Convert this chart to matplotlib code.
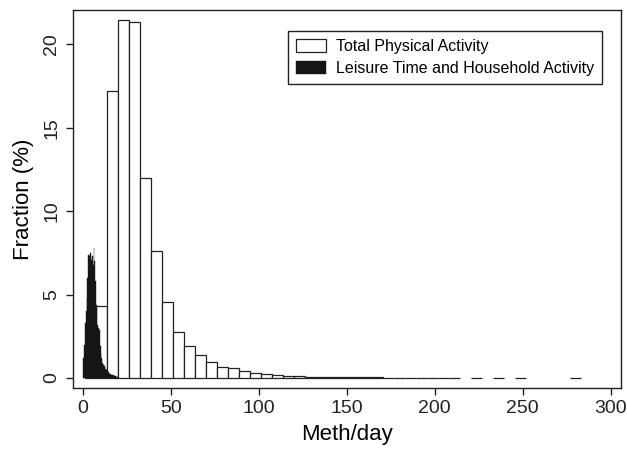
"""
plot.py - histogram of daily METh for total vs leisure/household activity.
Saves out.png (627x450).
"""
import matplotlib
matplotlib.use("Agg")
import matplotlib.pyplot as plt
import numpy as np

# ---------------------------------------------------------------------------
# Data
# ---------------------------------------------------------------------------

# total physical activity: 45 bins, width ~6.26 starting at ~1.28
total_start = 1.28
total_width = 6.26
total_pct = [
    0.5, 4.34, 17.2, 21.45, 21.35, 11.98, 7.6, 4.56, 2.76, 1.92,
    1.36, 0.94, 0.64, 0.62, 0.44, 0.32, 0.26, 0.16, 0.14, 0.10,
    0.06, 0.05, 0.04, 0.04, 0.03, 0.03, 0.03, 0.02, 0.02, 0.02,
    0.02, 0.02, 0.02, 0.01, 0.0, 0.01, 0.0, 0.01, 0.0, 0.01,
    0.0, 0.0, 0.0, 0.0, 0.01,
]

# leisure time and household activity: narrow bins of width 0.5 from 0
leisure_start = 0.0
leisure_width = 0.5
leisure_pct = [
    1.2, 2.0, 3.3, 4.0, 4.8, 6.0, 7.4, 7.3, 7.5, 7.1,
    7.3, 6.8, 7.8, 7.0, 5.8, 4.4, 3.2, 3.0, 2.9, 1.9,
    1.5, 1.2, 0.9, 0.8, 0.7, 0.55, 0.45, 0.4, 0.35, 0.3,
    0.25, 0.22, 0.2, 0.18, 0.15, 0.12, 0.1, 0.1, 0.08, 0.06,
]

xticks = [0, 50, 100, 150, 200, 250, 300]
yticks = [0, 5, 10, 15, 20]

plt.rcParams.update({
    "font.family": ["Liberation Sans", "DejaVu Sans"],
    "axes.linewidth": 1.0,
    "axes.edgecolor": "#222222",
})

fig = plt.figure(figsize=(6.27, 4.5), dpi=100)
ax = fig.add_axes([0.1164, 0.1378, 0.8736, 0.8402])

# empty bins are not drawn at all (gaps between the dashes in the tail)
t_vals = np.array(total_pct)
t_left = total_start + total_width * np.arange(len(t_vals))
keep = t_vals > 0
ax.bar(t_left[keep], t_vals[keep], width=total_width, align="edge",
       color="white", edgecolor="#222222", linewidth=0.9,
       label="Total Physical Activity", zorder=2)

l_vals = np.array(leisure_pct)
l_left = leisure_start + leisure_width * np.arange(len(l_vals))
ax.bar(l_left, l_vals, width=leisure_width, align="edge",
       color="#151515", edgecolor="#151515", linewidth=0.3,
       label="Leisure Time and Household Activity", zorder=3)

ax.set_xlim(-5.7, 305.7)
ax.set_ylim(-0.6, 22.07)
ax.set_xticks(xticks)
ax.set_yticks(yticks)
ax.tick_params(axis="both", direction="out", length=5, width=1.0,
               labelsize=14, colors="#222222", pad=4)
for lab in ax.get_yticklabels():
    lab.set_rotation(90)
    lab.set_va("center")

ax.set_xlabel("Meth/day", fontsize=16, labelpad=5)
ax.set_ylabel("Fraction (%)", fontsize=16, labelpad=7)

leg = ax.legend(loc="upper right", bbox_to_anchor=(0.966, 0.944),
                fontsize=11.5, frameon=True, fancybox=False,
                edgecolor="#222222", framealpha=1.0,
                handlelength=1.9, handleheight=0.85, borderpad=0.5,
                labelspacing=0.42, handletextpad=0.6, borderaxespad=0)
leg.get_frame().set_linewidth(1.0)

fig.savefig("out.png", dpi=100)
